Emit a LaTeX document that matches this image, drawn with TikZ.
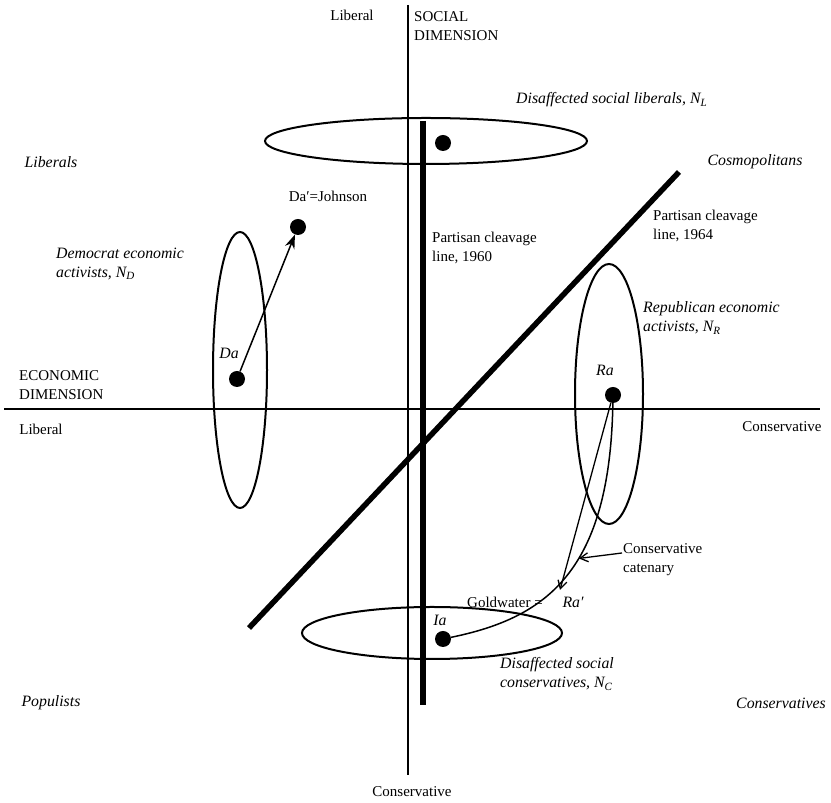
\documentclass[tikz,border=0pt]{standalone}
\usepackage{fontspec}
\setmainfont{Liberation Serif}
\usetikzlibrary{arrows.meta}

\begin{document}
\begin{tikzpicture}[x=1pt, y=1pt,
    dot/.style={circle, fill=black, inner sep=0pt, minimum size=16pt},
    lbl/.style={inner sep=1pt, font=\fontsize{15}{19}\selectfont, align=left},
    grp/.style={lbl, font=\fontsize{15.8}{19}\selectfont\itshape},
    arr/.style={-{Straight Barb[length=8pt, width=9pt]}, line width=1.3pt}]
\useasboundingbox (0,0) rectangle (831,803);

% axes
\draw[line width=1.6pt] (408,798) -- (408,28);
\draw[line width=1.6pt] (4,394) -- (820,394);
\node[lbl] at (352,788) {Liberal};
\node[lbl, anchor=west] at (413,777) {SOCIAL\\DIMENSION};
\node[lbl] at (412,11) {Conservative};
\node[lbl, anchor=west] at (18,418) {ECONOMIC\\DIMENSION};
\node[lbl] at (41,374) {Liberal};
\node[lbl] at (782,376) {Conservative};

% quadrants
\node[grp] at (51,641) {Liberals};
\node[grp] at (755,641) {Cosmopolitans};
\node[grp] at (51,100) {Populists};
\node[grp] at (781,100) {Conservatives};

% cleavage lines
\draw[line width=5.5pt] (423,682) -- (423,98);
\draw[line width=5.5pt] (249,175) -- (679,631);
\node[lbl, anchor=west] at (431,555) {Partisan cleavage\\line, 1960};
\node[lbl, anchor=west] at (652,577) {Partisan cleavage\\line, 1964};

% groups
\draw[line width=2pt] (426,662) ellipse (161 and 23);
\draw[line width=2pt] (240,433) ellipse (27 and 138);
\draw[line width=2pt] (609,409) ellipse (34 and 130);
\draw[line width=2pt] (432,170) ellipse (130 and 26);
\node[grp, anchor=west] at (515,703) {Disaffected social liberals, \textit{N}\textsubscript{L}};
\node[grp, anchor=west] at (55,539) {Democrat economic\\activists, \textit{N}\textsubscript{D}};
\node[grp, anchor=west] at (642,485) {Republican economic\\activists, \textit{N}\textsubscript{R}};
\node[grp, anchor=west] at (499,129) {Disaffected social\\conservatives, \textit{N}\textsubscript{C}};

% activists
\node[dot] (NL) at (443,660) {};
\node[dot] (Da) at (237,424) {};
\node[dot] (Dap) at (298,576) {};
\node[dot] (Ra) at (613,408) {};
\node[dot] (Ia) at (443,164) {};
\coordinate (Rap) at (560,213);
\node[grp] at (229,450) {Da};
\node[lbl] at (328,607) {Da\char"2032=Johnson};
\node[grp] at (605,433) {Ra};
\node[grp] at (440,183) {Ia};
\node[lbl] at (505,201) {Goldwater =};
\node[grp] at (573,201) {Ra\char"2032};

\draw[-{Stealth[length=14pt, width=10pt]}, line width=1.5pt] (Da) -- (Dap);
\draw[arr] (Ra) -- (Rap);
\draw[line width=1.5pt] (Ia) .. controls (545,185) and (610,230) .. (Ra) coordinate[pos=0.58] (cat);
\node[lbl, anchor=west] (catlbl) at (622,243) {Conservative\\catenary};
\draw[arr] ([yshift=7pt]catlbl.west) -- (cat);
\end{tikzpicture}
\end{document}
